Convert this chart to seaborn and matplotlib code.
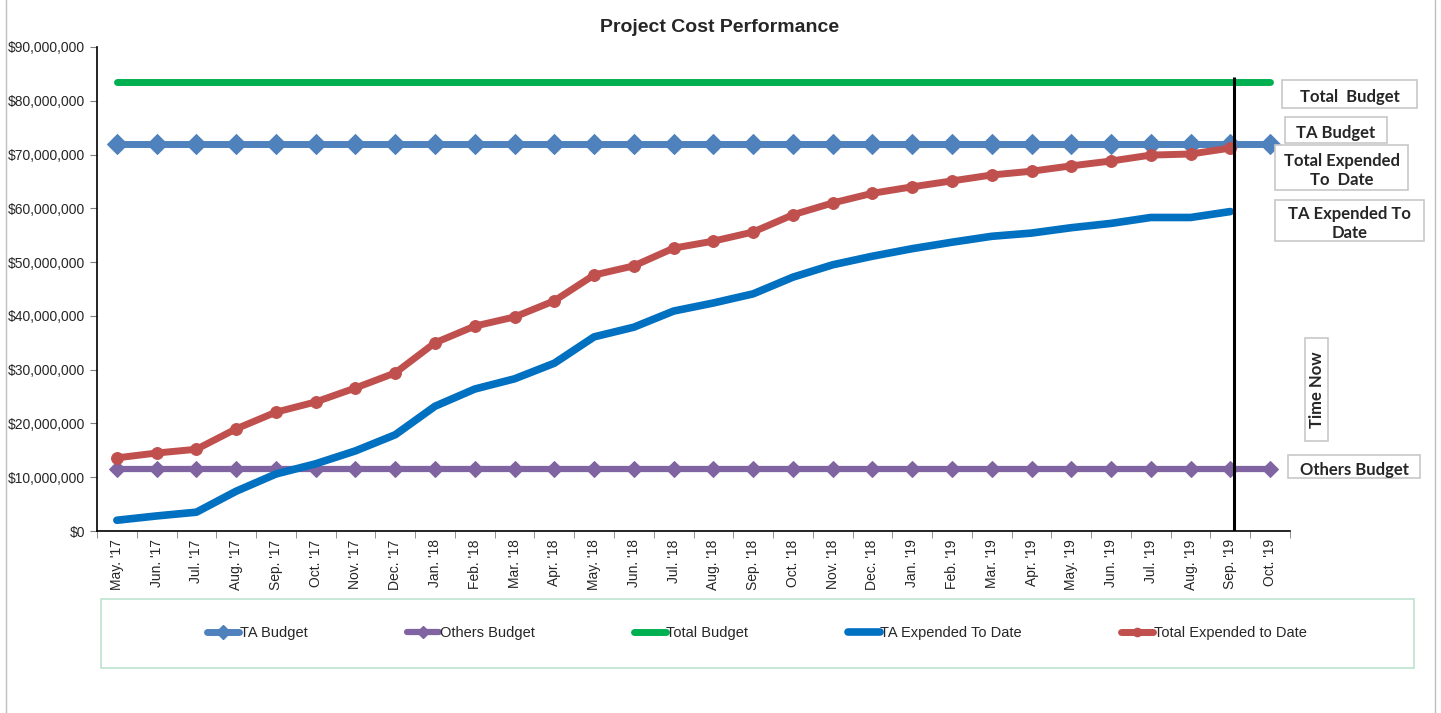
import matplotlib.pyplot as plt
import matplotlib.patches as patches
from matplotlib.lines import Line2D
from matplotlib.ticker import StrMethodFormatter, FixedLocator
import pandas as pd
import numpy as np
import seaborn as sns

# data
months = ["May. '17", "Jun. '17", "Jul. '17", "Aug. '17", "Sep. '17", "Oct. '17",
          "Nov. '17", "Dec. '17", "Jan. '18", "Feb. '18", "Mar. '18", "Apr. '18",
          "May. '18", "Jun. '18", "Jul. '18", "Aug. '18", "Sep. '18", "Oct. '18",
          "Nov. '18", "Dec. '18", "Jan. '19", "Feb. '19", "Mar. '19", "Apr. '19",
          "May. '19", "Jun. '19", "Jul. '19", "Aug. '19", "Sep. '19", "Oct. '19"]

ta_budget = [72.0e6] * 30
others_budget = [11.5e6] * 30
total_budget = [83.5e6] * 30
ta_expended = [2.0, 2.8, 3.5, 7.4, 10.6, 12.5, 14.9, 17.9, 23.2, 26.4, 28.3, 31.2,
               36.1, 37.9, 40.9, 42.4, 44.1, 47.2, 49.5, 51.1, 52.5, 53.7, 54.8,
               55.4, 56.4, 57.2, 58.3, 58.3, 59.4, None]
total_expended = [13.6, 14.5, 15.2, 19.0, 22.1, 24.0, 26.6, 29.4, 35.0, 38.1, 39.8,
                  42.8, 47.6, 49.3, 52.6, 53.9, 55.6, 58.8, 61.0, 62.8, 64.0, 65.1,
                  66.2, 66.9, 67.9, 68.8, 69.9, 70.1, 71.2, None]
ta_expended = [v * 1e6 if v is not None else np.nan for v in ta_expended]
total_expended = [v * 1e6 if v is not None else np.nan for v in total_expended]

time_now = "Sep. '19"
time_now_top = 84.4e6

df = pd.DataFrame({
    "idx": range(len(months)),
    "month": months,
    "TA Budget": ta_budget,
    "Others Budget": others_budget,
    "Total Budget": total_budget,
    "TA Expended To Date": ta_expended,
    "Total Expended to Date": total_expended,
})

sns.set_style("white")
plt.rcParams['font.family'] = ['Liberation Sans', 'DejaVu Sans']

W, H = 1441, 713
fig = plt.figure(figsize=(W / 100, H / 100), dpi=100)
ax = fig.add_axes([97 / W, 1 - 531 / H, (1290 - 97) / W, (531 - 47) / H])

styles = [
    ("TA Budget", "#4F81BD", 5, "D", 10),
    ("Others Budget", "#8064A2", 4.5, "D", 8.5),
    ("Total Budget", "#00B050", 5, None, 0),
    ("TA Expended To Date", "#0070C0", 5.5, None, 0),
    ("Total Expended to Date", "#C0504D", 5, "o", 8.5),
]
handles = []
for name, col, lw, mk, ms in styles:
    sns.lineplot(data=df, x="idx", y=name, ax=ax, color=col, linewidth=lw,
                 marker=mk, markersize=ms, markeredgecolor=col,
                 solid_capstyle="round", label=name, legend=False)
    handles.append(Line2D([], [], color=col, lw=lw, marker=mk, markersize=ms * 0.7,
                          markeredgecolor=col, solid_capstyle="round"))

# time now line
tn = months.index(time_now) + 0.1
ax.vlines(tn, 0, time_now_top, color="black", lw=2.2, zorder=5)

ax.set_xlim(-0.5, len(months) - 0.5)
ax.set_ylim(0, 90e6)
ax.yaxis.set_major_locator(FixedLocator(np.arange(0, 90e6 + 1, 10e6)))
ax.yaxis.set_major_formatter(StrMethodFormatter("${x:,.0f}"))
ax.set_xticks(range(len(months)))
ax.set_xticklabels(months, rotation=90)
ax.set_xticks(np.arange(-0.5, len(months)), minor=True)
ax.tick_params(axis="x", which="major", length=0, labelsize=10, pad=6)
ax.tick_params(axis="x", which="minor", length=5, color="#7F7F7F", direction="out")
ax.tick_params(axis="y", length=5, direction="out", labelsize=10, color="#7F7F7F")
ax.tick_params(bottom=True, left=True, which="both")
ax.set_xlabel("")
ax.set_ylabel("")
for s in ["top", "right"]:
    ax.spines[s].set_visible(False)
for s in ["left", "bottom"]:
    ax.spines[s].set_color("black")
    ax.spines[s].set_linewidth(1.2)

fig.text(720 / W, 1 - 28 / H, "Project Cost Performance", ha="center", va="center",
         fontsize=14, fontweight="bold")

# legend box
fig.add_artist(patches.Rectangle((101 / W, 1 - 668 / H), (1414 - 101) / W, (668 - 599) / H,
                                 transform=fig.transFigure, fill=False,
                                 ec="#BFE3D0", lw=1.2))
fig.legend(handles, [s[0] for s in styles], loc="center", ncol=5,
           bbox_to_anchor=(757 / W, 1 - 633 / H), frameon=False, fontsize=10.5,
           handlelength=2.2, handletextpad=0.05, columnspacing=6.8)

# label boxes on the right
boxes = [
    ("Total  Budget", 1282, 80, 1417, 108, 0),
    ("TA Budget", 1285, 117, 1387, 143, 0),
    ("Total Expended\nTo  Date", 1275, 145, 1408, 190, 0),
    ("TA Expended To\nDate", 1275, 200, 1424, 241, 0),
    ("Time Now", 1305, 338, 1328, 441, 90),
    ("Others Budget", 1288, 455, 1420, 478, 0),
]
for txt, x0, y0, x1, y1, rot in boxes:
    fig.add_artist(patches.Rectangle((x0 / W, 1 - y1 / H), (x1 - x0) / W, (y1 - y0) / H,
                                     transform=fig.transFigure, fc="white",
                                     ec="#C8C8C8", lw=1.2))
    dy = 3 if rot == 0 else 0
    fig.text((x0 + x1) / 2 / W, 1 - ((y0 + y1) / 2 + dy) / H, txt, ha="center",
             va="center", rotation=rot, fontsize=12, fontweight="bold",
             family=["Lato", "DejaVu Sans"], linespacing=1.3)

# outer chart border
fig.add_artist(Line2D([6 / W, 6 / W], [0, 1], transform=fig.transFigure, color="#BFBFBF", lw=1))
fig.add_artist(Line2D([1435 / W, 1435 / W], [0, 1], transform=fig.transFigure, color="#BFBFBF", lw=1))

fig.savefig("out.png", dpi=100)
